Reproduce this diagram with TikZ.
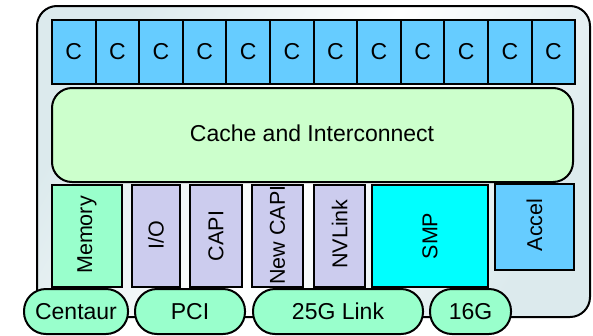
\documentclass[tikz,border=0pt]{standalone}
\usepackage{fontspec}
\setmainfont{Liberation Sans}
\definecolor{corec}{HTML}{66CCFF}
\definecolor{cachec}{HTML}{CCFFCC}
\definecolor{memc}{HTML}{99FFCC}
\definecolor{ioc}{HTML}{CCCCEE}
\definecolor{smpc}{HTML}{00FFFF}
\definecolor{bgc}{HTML}{DCEAED}
\begin{document}
\begin{tikzpicture}[x=1pt,y=-1pt,
  box/.style={draw=black,line width=2pt,inner sep=0pt},
  hlab/.style={font=\fontsize{23}{25}\selectfont,inner sep=0pt},
  vlab/.style={font=\fontsize{21.5}{24}\selectfont,inner sep=0pt,rotate=90},
  stad/.style={draw=black,line width=2pt,fill=memc,rounded corners=22pt}]
\useasboundingbox (0,0) rectangle (593,335);
% outer chip
\draw[line width=2pt,rounded corners=20pt,left color=bgc,right color=bgc,middle color=white,shading angle=60]
  (37,6) rectangle (590,317);
% cores
\foreach \i in {0,...,11}{
  \pgfmathsetmacro\xa{52+\i*43.6}
  \pgfmathsetmacro\xb{52+(\i+1)*43.6}
  \draw[box,fill=corec] (\xa,20) rectangle (\xb,84);
  \node[hlab] (c\i) at ({(\xa+\xb)/2},52) {C};
}
% bottom boxes
\draw[box,fill=memc] (52,185) rectangle (122,287);
\node[vlab] (mem) at (87,235) {Memory};
\draw[box,fill=ioc] (132,185) rectangle (180,287);
\node[vlab] (io) at (156,235) {I/O};
\draw[box,fill=ioc] (190,185) rectangle (242,287);
\node[vlab] (capi) at (216,236) {CAPI};
\draw[box,fill=ioc] (252,185) rectangle (303,287);
\node[vlab] (ncapi) at (277.5,235) {New CAPI};
\draw[box,fill=ioc] (314,185) rectangle (365,287);
\node[vlab] (nvl) at (339.5,234) {NVLink};
\draw[box,fill=smpc] (372,185) rectangle (488,287);
\node[vlab] (smp) at (430,236) {SMP};
\draw[box,fill=corec] (495,184) rectangle (574,270);
\node[vlab] (acc) at (534.5,225) {Accel};
% cache
\draw[box,fill=cachec,rounded corners=20pt] (52,88) rectangle (573,182);
\node[hlab] (cache) at (312,133) {Cache and Interconnect};
% stadiums
\draw[stad] (24,289) rectangle (128,334);
\node[hlab] (cent) at (76,311.5) {Centaur};
\draw[stad] (135,289) rectangle (245,334);
\node[hlab] (pci) at (190,311.5) {PCI};
\draw[stad] (253,289) rectangle (423,334);
\node[hlab] (link) at (338,311.5) {25G Link};
\draw[stad] (430,289) rectangle (511,334);
\node[hlab] (g16) at (470.5,311.5) {16G};
\end{tikzpicture}
\end{document}
